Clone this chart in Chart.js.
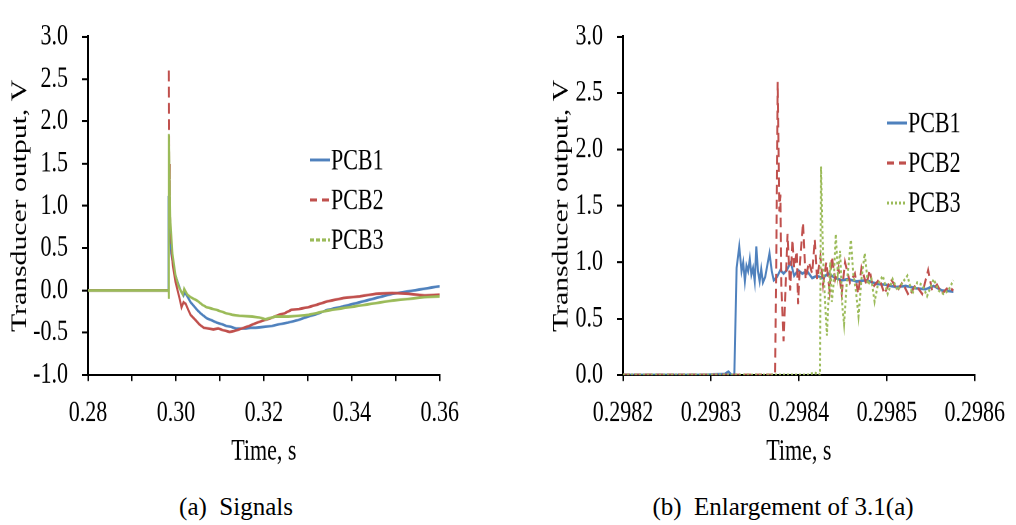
<!DOCTYPE html>
<html><head><meta charset="utf-8">
<script src="https://cdn.jsdelivr.net/npm/chart.js@4.4.1/dist/chart.umd.min.js"></script>
<style>
html,body{margin:0;padding:0;background:#fff;}
#wrap{position:relative;width:1016px;height:525px;overflow:hidden;background:#fff;}
canvas{position:absolute;top:0;transform:scaleY(1.35);transform-origin:0 0;}
#c1{left:0px;}
#c2{left:540px;}
.cap{position:absolute;top:494px;font-family:"Liberation Serif";font-size:25px;line-height:25px;white-space:pre;transform:translateX(-50%);color:#000;}
</style></head><body>
<div id="wrap">
<canvas id="c1" width="470" height="348"></canvas>
<canvas id="c2" width="476" height="348"></canvas>
<div class="cap" style="left:236px">(a)  Signals</div>
<div class="cap" style="left:783px">(b)  Enlargement of 3.1(a)</div>
</div>
<script>
// ---------- DATA ----------
const seriesNames = ['PCB1', 'PCB2', 'PCB3'];
const yTitle = 'Transducer output, V';
const xTitle = 'Time, s';

// Panel (a): Signals
const aTimePCB1 = [0.2800,0.2983,0.29832,0.29850,0.29891,0.29965,0.30039,0.30113,0.30172,0.30200,0.30223,0.30280,0.30334,0.30400,0.30482,0.30560,0.30630,0.30704,0.30800,0.30925,0.31050,0.31147,0.31250,0.31368,0.31480,0.31590,0.31700,0.31812,0.32000,0.32181,0.32350,0.32551,0.32780,0.33000,0.33200,0.33440,0.33800,0.34180,0.34550,0.34920,0.35300,0.35650,0.36000];
const aVoltPCB1 = [0,0,1.12,0.85,0.44,0.22,0.10,-0.01,-0.06,-0.02,-0.04,-0.09,-0.14,-0.18,-0.23,-0.27,-0.30,-0.33,-0.35,-0.38,-0.40,-0.42,-0.43,-0.45,-0.45,-0.45,-0.44,-0.44,-0.43,-0.42,-0.40,-0.38,-0.35,-0.31,-0.28,-0.23,-0.19,-0.14,-0.09,-0.04,-0.01,0.02,0.05];
const aTimePCB2 = [0.2800,0.29836,0.29838,0.29845,0.29861,0.29905,0.29930,0.29990,0.30076,0.30127,0.30172,0.30223,0.30280,0.30334,0.30445,0.30530,0.30630,0.30740,0.30852,0.30960,0.31073,0.31221,0.31330,0.31442,0.31664,0.31800,0.31960,0.32150,0.32329,0.32470,0.32625,0.32800,0.33000,0.33200,0.33440,0.33810,0.34180,0.34550,0.34920,0.35290,0.35660,0.36000];
const aVoltPCB2 = [0,0,2.60,1.50,0.93,0.44,0.29,0.10,-0.08,-0.20,-0.14,-0.16,-0.23,-0.29,-0.35,-0.40,-0.44,-0.45,-0.46,-0.45,-0.47,-0.49,-0.48,-0.46,-0.42,-0.39,-0.36,-0.33,-0.29,-0.27,-0.23,-0.22,-0.20,-0.17,-0.13,-0.09,-0.07,-0.04,-0.03,-0.04,-0.06,-0.05];
const aTimePCB3 = [0.2800,0.29837,0.29838,0.29840,0.29870,0.29920,0.29990,0.30060,0.30157,0.30187,0.30260,0.30334,0.30482,0.30600,0.30704,0.30925,0.31147,0.31300,0.31442,0.31738,0.31900,0.32034,0.32255,0.32551,0.32800,0.33000,0.33440,0.33800,0.34180,0.34550,0.34920,0.35300,0.35650,0.36000];
const aVoltPCB3 = [0,0,-0.10,1.85,0.86,0.44,0.18,0.05,-0.05,0.02,-0.05,-0.08,-0.12,-0.17,-0.20,-0.23,-0.27,-0.29,-0.30,-0.31,-0.32,-0.34,-0.31,-0.31,-0.30,-0.29,-0.24,-0.21,-0.18,-0.15,-0.12,-0.10,-0.08,-0.07];

// Panel (b): Enlargement
const bTimePCB1 = [0.2982000,0.2982500,0.2982937,0.2983160,0.2983199,0.2983236,0.2983266,0.2983292,0.2983322,0.2983348,0.2983367,0.2983386,0.2983404,0.2983423,0.2983442,0.2983460,0.2983479,0.2983498,0.2983516,0.2983535,0.2983554,0.2983572,0.2983591,0.2983617,0.2983666,0.2983692,0.2983714,0.2983752,0.2983789,0.2983826,0.2983864,0.2983908,0.2983946,0.2983991,0.2984039,0.2984095,0.2984151,0.2984207,0.2984263,0.2984338,0.2984413,0.2984487,0.2984562,0.2984655,0.2984768,0.2984880,0.2984992,0.2985104,0.2985216,0.2985328,0.2985440,0.2985533,0.2985627,0.2985757];
const bVoltPCB1 = [0,0,0,0.01,0.03,0,0,0.95,1.14,0.92,1.00,0.83,0.97,0.92,1.03,0.89,0.95,0.83,1.14,0.92,0.83,0.94,0.82,0.87,1.08,0.92,0.84,0.87,0.93,0.90,0.93,1.00,0.88,0.93,0.90,0.92,0.86,0.88,0.86,0.90,0.86,0.84,0.85,0.83,0.84,0.81,0.80,0.78,0.79,0.77,0.76,0.79,0.75,0.74];
const bTimePCB2 = [0.2982000,0.2983729,0.2983742,0.2983759,0.2983778,0.2983790,0.2983800,0.2983826,0.2983871,0.2983901,0.2983927,0.2983946,0.2983976,0.2983991,0.2984013,0.2984047,0.2984077,0.2984114,0.2984151,0.2984181,0.2984207,0.2984245,0.2984275,0.2984312,0.2984349,0.2984375,0.2984413,0.2984450,0.2984487,0.2984525,0.2984581,0.2984637,0.2984674,0.2984712,0.2984768,0.2984805,0.2984842,0.2984917,0.2984973,0.2985048,0.2985122,0.2985178,0.2985253,0.2985328,0.2985402,0.2985470,0.2985515,0.2985571,0.2985627,0.2985701,0.2985757];
const bVoltPCB2 = [0,0,0.90,2.60,1.45,1.60,0.80,0.30,1.25,0.75,1.20,0.95,1.10,0.63,1.00,1.35,0.85,1.00,0.90,1.20,0.85,1.05,0.80,1.00,0.75,1.05,0.85,0.95,0.72,1.00,0.82,0.90,0.72,0.95,0.80,0.93,0.78,0.85,0.72,0.85,0.75,0.82,0.70,0.80,0.72,0.93,0.75,0.80,0.72,0.78,0.75];
const bTimePCB3 = [0.2982000,0.2984100,0.2984170,0.2984226,0.2984240,0.2984252,0.2984267,0.2984282,0.2984301,0.2984319,0.2984338,0.2984357,0.2984375,0.2984394,0.2984420,0.2984443,0.2984469,0.2984495,0.2984514,0.2984543,0.2984562,0.2984592,0.2984618,0.2984648,0.2984678,0.2984712,0.2984749,0.2984786,0.2984824,0.2984861,0.2984898,0.2984954,0.2985010,0.2985066,0.2985122,0.2985178,0.2985234,0.2985290,0.2985346,0.2985402,0.2985458,0.2985533,0.2985589,0.2985645,0.2985701,0.2985757];
const bVoltPCB3 = [0,0,0.02,0.01,0,1.85,1.30,0.90,0.60,0.35,0.70,1.00,0.65,0.80,1.25,0.90,1.10,0.60,0.45,0.80,0.95,1.20,0.90,0.75,0.52,0.85,1.08,0.80,0.85,0.65,0.80,0.88,0.72,0.85,0.75,0.82,0.88,0.72,0.82,0.80,0.70,0.85,0.75,0.72,0.75,0.84];

// ---------- STYLE / LAYOUT ----------
const colors = ['#4F81BD', '#C0504D', '#9BBB59'];
const SY = 1.35;            // vertical stretch of the figure
const H = 348;              // unstretched canvas height
const AREA_TOP = 20 / SY;
const AREA_BOTTOM = 375 / SY;
const FONT = {family: '"Liberation Serif", "Times New Roman", serif', size: 22};

const pts = (t, v) => t.map((x, i) => ({x: x, y: v[i]}));

const inlineLegend = {
  id: 'inlineLegend',
  afterDatasetsDraw(chart, args, opts) {
    const ctx = chart.ctx;
    ctx.save();
    chart.data.datasets.forEach((ds, i) => {
      const y = opts.y0 + i * opts.dy;
      ctx.beginPath();
      ctx.setLineDash(ds.legendDash || []);
      ctx.strokeStyle = ds.borderColor;
      ctx.lineWidth = 2.2;
      ctx.moveTo(opts.x0, y);
      ctx.lineTo(opts.x1, y);
      ctx.stroke();
      ctx.setLineDash([]);
      ctx.fillStyle = '#000';
      ctx.font = '22px "Liberation Serif"';
      ctx.textBaseline = 'middle';
      ctx.textAlign = 'left';
      ctx.fillText(ds.label, opts.x1 + 1, y + 1);
    });
    ctx.restore();
  }
};

function options(c) {
  return {
    responsive: false,
    animation: false,
    devicePixelRatio: 2,
    layout: {padding: {left: 0, right: c.padRight, top: AREA_TOP, bottom: 0}},
    elements: {point: {radius: 0}, line: {tension: 0}},
    plugins: {legend: {display: false}, tooltip: {enabled: false}, inlineLegend: c.legend},
    scales: {
      x: {
        type: 'linear', min: c.xMin, max: c.xMax,
        afterFit: s => { s.height = H - AREA_BOTTOM; },
        ticks: {stepSize: c.xStep, autoSkip: false, maxRotation: 0, padding: c.xTickPad, color: '#000', font: FONT, callback: c.xLabel},
        grid: {drawOnChartArea: false, drawTicks: true, tickLength: 6 / SY, color: '#000', lineWidth: 1.5},
        border: {display: true, color: '#000', width: 1.5},
        title: {display: true, text: xTitle, color: '#000', font: FONT, padding: {top: 0, bottom: 0}}
      },
      y: {
        min: c.yMin, max: 3,
        afterFit: s => { s.width = c.yWidth; },
        ticks: {stepSize: 0.5, padding: 14, color: '#000', font: FONT, callback: v => v.toFixed(1)},
        grid: {drawOnChartArea: false, drawTicks: true, tickLength: 6, color: '#000', lineWidth: 1.5},
        border: {display: true, color: '#000', width: 2},
        title: {display: true, text: yTitle, color: '#000', font: FONT, padding: {top: c.yTitlePad, bottom: 0}}
      }
    }
  };
}

// Panel (a)
new Chart(document.getElementById('c1'), {
  type: 'line',
  data: {datasets: [
    {label: seriesNames[0], data: pts(aTimePCB1, aVoltPCB1), borderColor: colors[0], borderWidth: 2, order: 3, legendDash: []},
    {label: seriesNames[1], data: pts(aTimePCB2, aVoltPCB2), borderColor: colors[1], borderWidth: 2, order: 2, legendDash: [7, 5],
      segment: {
        // the rise and the fall of the spike coincide; show the dashed fall only
        borderColor: ctx => (ctx.p1.parsed.y - ctx.p0.parsed.y > 1) ? 'rgba(0,0,0,0)' : undefined,
        borderDash: ctx => (ctx.p0.parsed.y > 0.6 || ctx.p1.parsed.y > 0.6) ? [8, 4] : undefined
      }},
    {label: seriesNames[2], data: pts(aTimePCB3, aVoltPCB3), borderColor: colors[2], borderWidth: 2, order: 1, legendDash: [4, 2]}
  ]},
  options: options({
    xMin: 0.28, xMax: 0.36, xStep: 0.01,
    xLabel: v => (Math.round(v * 100) % 2 === 0) ? v.toFixed(2) : '',
    xTickPad: 11, yMin: -1, yWidth: 88, padRight: 21, yTitlePad: 7,
    legend: {x0: 310, x1: 330, y0: 160 / SY, dy: 40 / SY}
  }),
  plugins: [inlineLegend]
});

// Panel (b)
new Chart(document.getElementById('c2'), {
  type: 'line',
  data: {datasets: [
    {label: seriesNames[0], data: pts(bTimePCB1, bVoltPCB1), borderColor: colors[0], borderWidth: 2, order: 3, legendDash: []},
    {label: seriesNames[1], data: pts(bTimePCB2, bVoltPCB2), borderColor: colors[1], borderWidth: 2, order: 2, borderDash: [7, 4], legendDash: [7, 5]},
    {label: seriesNames[2], data: pts(bTimePCB3, bVoltPCB3), borderColor: colors[2], borderWidth: 2, order: 1, borderDash: [2, 2], legendDash: [2, 2]}
  ]},
  options: options({
    xMin: 0.2982, xMax: 0.2986, xStep: 0.0001,
    xLabel: v => v.toFixed(4),
    xTickPad: 11, yMin: 0, yWidth: 83, padRight: 36, yTitlePad: 8.5,
    legend: {x0: 347, x1: 367, y0: 123 / SY, dy: 40 / SY}
  }),
  plugins: [inlineLegend]
});
</script>
</body></html>
